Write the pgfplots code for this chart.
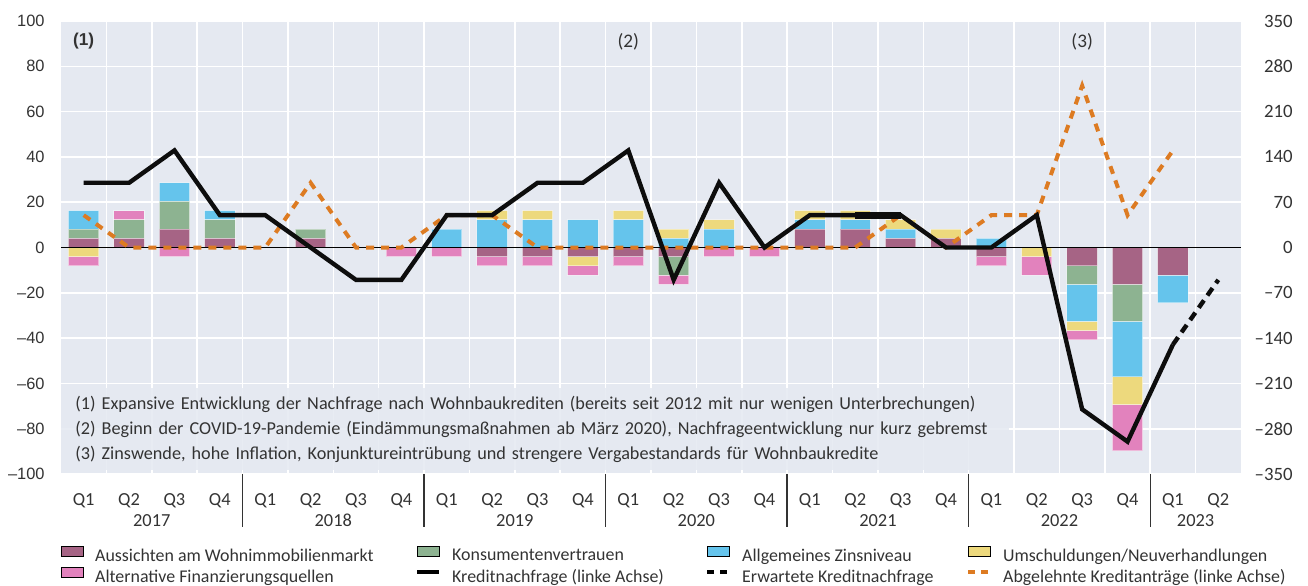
\documentclass[border=0pt]{standalone}
\usepackage{pgfplots}
\pgfplotsset{compat=1.18}
\usepackage{pgfplotstable}
\usepackage{fontspec}
\setmainfont{Carlito}
\newfontfamily\arialf{Liberation Sans}
\definecolor{bgc}{HTML}{E5E9F1}
\definecolor{cA}{HTML}{A66485}
\definecolor{cK}{HTML}{8DB391}
\definecolor{cZ}{HTML}{65C4EC}
\definecolor{cU}{HTML}{EDD97D}
\definecolor{cF}{HTML}{E282BD}
\definecolor{cO}{HTML}{DD7B22}
\definecolor{txt}{HTML}{333333}

% positive contributions (left-axis scale)
\pgfplotstableread{
x A K Z U F
0 4.08 4.08 8.16 0 0
1 4.08 8.16 0 0 4.08
2 8.16 12.24 8.16 0 0
3 4.08 8.16 4.08 0 0
4 0 0 0 0 0
5 4.08 4.08 0 0 0
6 0 0 0 0 0
7 0 0 0 0 0
8 0 0 8.16 0 0
9 0 0 12.24 4.08 0
10 0 0 12.24 4.08 0
11 0 0 12.24 0 0
12 0 0 12.24 4.08 0
13 0 0 4.08 4.08 0
14 0 0 8.16 4.08 0
15 0 0 0 0 0
16 8.16 0 4.08 4.08 0
17 8.16 0 4.08 4.08 0
18 4.08 0 4.08 4.08 0
19 4.08 0 0 4.08 0
20 0 0 4.08 0 0
21 0 0 0 0 0
22 0 0 0 0 0
23 0 0 0 0 0
24 0 0 0 0 0
25 0 0 0 0 0
}\pos
% negative contributions
\pgfplotstableread{
x A K Z U F
0 0 0 0 -4.08 -4.08
1 0 0 0 0 0
2 0 0 0 0 -4.08
3 0 0 0 0 0
4 0 0 0 0 0
5 0 0 0 0 0
6 0 0 0 0 0
7 0 0 0 0 -4.08
8 0 0 0 0 -4.08
9 -4.08 0 0 0 -4.08
10 -4.08 0 0 0 -4.08
11 -4.08 0 0 -4.08 -4.08
12 -4.08 0 0 0 -4.08
13 -4.08 -8.16 0 0 -4.08
14 0 0 0 0 -4.08
15 0 0 0 0 -4.08
16 0 0 0 0 0
17 0 0 0 0 0
18 0 0 0 0 0
19 0 0 0 0 0
20 -4.08 0 0 0 -4.08
21 0 0 0 -4.08 -8.16
22 -8.16 -8.16 -16.33 -4.08 -4.08
23 -16.33 -16.33 -24.49 -12.24 -20.41
24 -12.24 0 -12.24 0 0
25 0 0 0 0 0
}\neg

\pgfplotsset{base/.style={scale only axis, width=590pt, height=226.5pt,
  at={(30.5pt,55.5pt)}, anchor=south west, xmin=-0.5, xmax=25.5, ymin=-100, ymax=100,
  axis line style={draw=none}, major tick length=0pt, minor tick length=0pt, clip=false},
  barst/.style={draw=white, draw opacity=0.45, line width=0.5pt},
  swatch/.style={legend image code/.code={\fill[##1] (0pt,0.2pt) rectangle (11pt,5.2pt);}},
  lineimg/.style={legend image code/.code={\draw[##1] (0pt,2.7pt) -- (11pt,2.7pt);}}
}
\tikzset{yrlab/.style={anchor=base, inner sep=0pt, font=\fontsize{9.2}{10}\selectfont, text=txt, yshift=-26pt},
  sepline/.style={txt, line width=0.7pt}}

\begin{document}
\begin{tikzpicture}
\useasboundingbox (0,0) rectangle (654pt,292.5pt);
% Axis A: background, grid, positive bars, left labels, quarter labels
\begin{axis}[base, axis background/.style={fill=bgc},
  ybar stacked, bar width=0.67,
  ytick={-100,-80,...,100}, yticklabels={–100,–80,–60,–40,–20,0,20,40,60,80,100},
  yticklabel style={anchor=east, inner sep=0pt, xshift=-8pt, font=\arialf\fontsize{8.2}{9}\selectfont, text=txt},
  ymajorgrids, major grid style={white, line width=0.8pt},
  xtick={0,...,25},
  xticklabels={Q1,Q2,Q3,Q4,Q1,Q2,Q3,Q4,Q1,Q2,Q3,Q4,Q1,Q2,Q3,Q4,Q1,Q2,Q3,Q4,Q1,Q2,Q3,Q4,Q1,Q2},
  xticklabel style={anchor=base, inner sep=0pt, yshift=-15.5pt, font=\fontsize{9.2}{10}\selectfont, text=txt},
  minor xtick={0.5,1.5,...,24.5}, xminorgrids, minor grid style={white, line width=0.8pt},
]
\addplot[fill=cA, barst] table[x=x,y=A]{\pos};
\addplot[fill=cK, barst] table[x=x,y=K]{\pos};
\addplot[fill=cZ, barst] table[x=x,y=Z]{\pos};
\addplot[fill=cU, barst] table[x=x,y=U]{\pos};
\addplot[fill=cF, barst] table[x=x,y=F]{\pos};
\end{axis}
% Axis B: negative bars
\begin{axis}[base, ybar stacked, bar width=0.67, xtick=\empty, ytick=\empty]
\addplot[fill=cA, barst] table[x=x,y=A]{\neg};
\addplot[fill=cK, barst] table[x=x,y=K]{\neg};
\addplot[fill=cZ, barst] table[x=x,y=Z]{\neg};
\addplot[fill=cU, barst] table[x=x,y=U]{\neg};
\addplot[fill=cF, barst] table[x=x,y=F]{\neg};
\end{axis}
% Axis C: lines, right labels, notes, legend
\begin{axis}[base, xtick=\empty,
  ytick={-100,-80,...,100}, yticklabel pos=right,
  yticklabels={–350,–280,–210,–140,–70,0,70,140,210,280,350},
  yticklabel style={anchor=east, inner sep=0pt, xshift=26pt, font=\fontsize{9.4}{10}\selectfont, text=txt},
  legend columns=4, legend cell align=left,
  legend style={at={(0,-0.157)}, anchor=north west, draw=none, fill=none, inner sep=0pt,
    font=\fontsize{8.95}{10}\selectfont, text=txt, row sep=1.3pt,
    nodes={inner sep=0pt},
    /tikz/every odd column/.append style={column sep=5.5pt}},
]
\addplot[black, line width=0.6pt, forget plot] coordinates {(-0.5,0) (25.5,0)};
\addplot[cO, line width=2pt, dash pattern=on 4pt off 3.5pt, forget plot] coordinates {
(0,14.29) (1,0) (2,0) (3,0) (4,0) (5,28.57) (6,0) (7,0) (8,14.29) (9,14.29) (10,0) (11,0) (12,0)
(13,0) (14,0) (15,0) (16,0) (17,0) (18,14.29) (19,0) (20,14.29) (21,14.29) (22,71.43) (23,14.29) (24,42.86)};
\addplot[black!95, line width=2.2pt, forget plot] coordinates {
(0,28.57) (1,28.57) (2,42.86) (3,14.29) (4,14.29) (5,0) (6,-14.29) (7,-14.29) (8,14.29) (9,14.29)
(10,28.57) (11,28.57) (12,42.86) (13,-14.29) (14,28.57) (15,0) (16,14.29) (17,14.29) (18,14.29)
(19,0) (20,0) (21,14.29) (22,-71.43) (23,-85.71) (24,-42.86)};
\addplot[black!95, line width=3.4pt, forget plot] coordinates {(17,14.29) (18,14.29)};
\addplot[black!95, line width=2.2pt, dash pattern=on 4.5pt off 3pt, forget plot] coordinates {(24,-42.86) (25,-14.29)};
% legend
\addlegendimage{swatch, fill=cA}
\addlegendentry{\makebox[160pt][l]{Aussichten am Wohnimmobilienmarkt}}
\addlegendimage{swatch, fill=cK}
\addlegendentry{\makebox[126.5pt][l]{Konsumentenvertrauen}}
\addlegendimage{swatch, fill=cZ}
\addlegendentry{\makebox[112pt][l]{Allgemeines Zinsniveau}}
\addlegendimage{swatch, fill=cU}
\addlegendentry{Umschuldungen/Neuverhandlungen}
\addlegendimage{swatch, fill=cF}
\addlegendentry{\makebox[160pt][l]{Alternative Finanzierungsquellen}}
\addlegendimage{lineimg, black, line width=2pt}
\addlegendentry{\makebox[126.5pt][l]{Kreditnachfrage (linke Achse)}}
\addlegendimage{lineimg, black, line width=2pt, dash pattern=on 3.5pt off 3pt}
\addlegendentry{\makebox[112pt][l]{Erwartete Kreditnachfrage}}
\addlegendimage{lineimg, cO, line width=2pt, dash pattern=on 3.5pt off 3pt}
\addlegendentry{Abgelehnte Kreditanträge (linke Achse)}
% markers
\node[font=\arialf\bfseries\fontsize{8.6}{10}\selectfont, text=txt] at (axis cs:0,91) {(1)};
\node[font=\fontsize{9.6}{10}\selectfont, text=txt] at (axis cs:12,91) {(2)};
\node[font=\fontsize{9.6}{10}\selectfont, text=txt] at (axis cs:22,91) {(3)};
% notes
\node[anchor=north west, fill=bgc, fill opacity=0.85, text opacity=1, inner xsep=7pt, inner ysep=4pt,
  align=left, text width=460pt, font=\fontsize{9.1}{12.5}\selectfont, text=txt] at (rel axis cs:0,0.191)
  {(1) Expansive Entwicklung der Nachfrage nach Wohnbaukrediten (bereits seit 2012 mit nur wenigen Unterbrechungen)\\
   (2) Beginn der COVID-19-Pandemie (Eindämmungsmaßnahmen ab März 2020), Nachfrageentwicklung nur kurz gebremst\\
   (3) Zinswende, hohe Inflation, Konjunktureintrübung und strengere Vergabestandards für Wohnbaukredite};
% years
\node[yrlab] at (axis cs:1.5,-100) {2017};
\node[yrlab] at (axis cs:5.5,-100) {2018};
\node[yrlab] at (axis cs:9.5,-100) {2019};
\node[yrlab] at (axis cs:13.5,-100) {2020};
\node[yrlab] at (axis cs:17.5,-100) {2021};
\node[yrlab] at (axis cs:21.5,-100) {2022};
\node[yrlab] at (axis cs:24.5,-100) {2023};
\draw[sepline] (axis cs:3.5,-100) -- ++(0pt,-26.5pt);
\draw[sepline] (axis cs:7.5,-100) -- ++(0pt,-26.5pt);
\draw[sepline] (axis cs:11.5,-100) -- ++(0pt,-26.5pt);
\draw[sepline] (axis cs:15.5,-100) -- ++(0pt,-26.5pt);
\draw[sepline] (axis cs:19.5,-100) -- ++(0pt,-26.5pt);
\draw[sepline] (axis cs:23.5,-100) -- ++(0pt,-26.5pt);
\end{axis}
\end{tikzpicture}
\end{document}
